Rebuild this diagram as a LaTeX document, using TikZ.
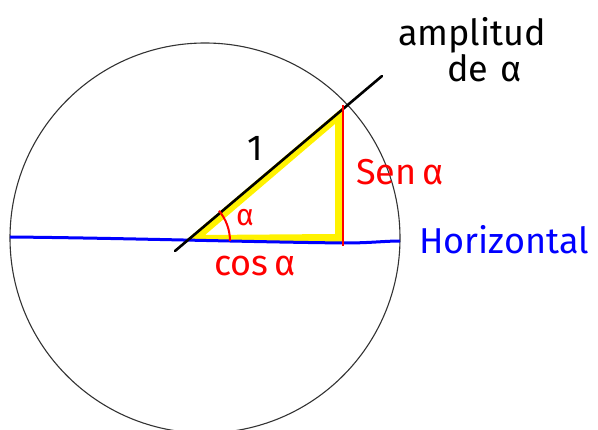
\documentclass[tikz,border=0pt]{standalone}
\usepackage{fontspec}
\setmainfont{Fira Sans}
\usetikzlibrary{calc}

\begin{document}
\begin{tikzpicture}[
    x=1pt, y=-1pt,
    rim/.style={draw=black!80, line width=1.1pt},
    ray/.style={draw=black, line width=2.6pt, line cap=round},
    redline/.style={draw=red, line width=2pt},
    lab/.style={font=\fontsize{36}{32}\selectfont, inner sep=0pt, align=center},
    redlab/.style={lab, text=red}
  ]
    \useasboundingbox (0,0) rectangle (598,430);
    \clip (0,0) rectangle (598,430);
    \coordinate (C) at (205,238);
    \coordinate (O) at (183,241);
    \coordinate (A) at (175,251);
    \coordinate (B) at (382,76);
    \coordinate (P) at (343,105);
    \coordinate (Q) at (343,246);
    \draw[rim] (C) circle (195);
    % yellow triangle
    \fill[yellow, even odd rule] (186,240) -- (343,107) -- (343,242) -- cycle
      (205,235) -- (335,124) -- (335,234) -- cycle;
    \draw[blue, line width=3pt] (10,237) .. controls (120,238) and (250,242) .. (345,243)
      .. controls (370,243) and (385,241) .. (400,241);
    \draw[ray] (A) -- (B);
    \draw[redline] (P) -- (Q);
    \draw[redline] ($(O)+(-40:47)$) arc[start angle=-40, end angle=0, radius=47];
    \node[lab] (one) at (255,148) {1};
    \node[redlab] (sen) at (400,172) {Sen\,α};
    \node[redlab] (cos) at (255,266) {cos\,α};
    \node[redlab, font=\fontsize{30}{32}\selectfont] (alf) at (245,218) {α};
    \node[lab, text=blue] (hor) at (504,240) {Horizontal};
    \node[lab] (amp) at (472,50) {amplitud\\\hspace*{0.7em}de\,\,α};
  \end{tikzpicture}
\end{document}
